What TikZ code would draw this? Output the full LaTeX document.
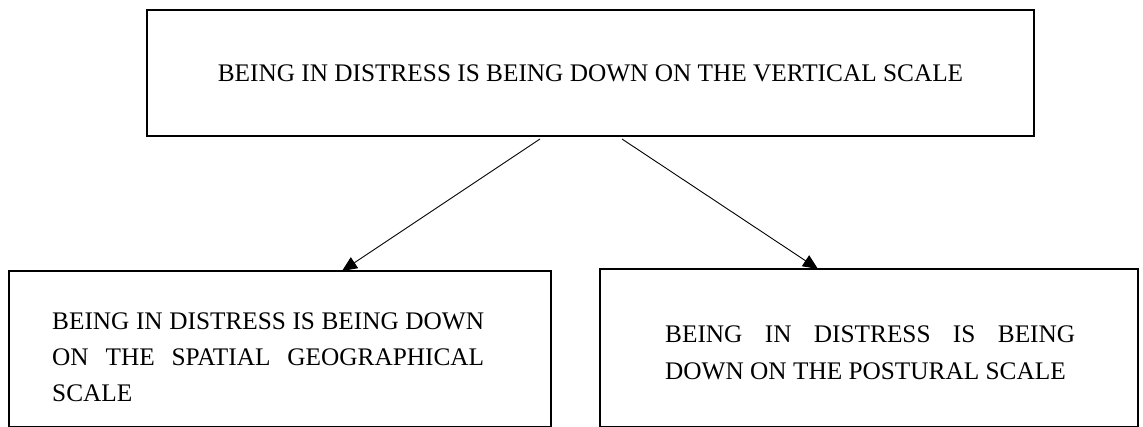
\documentclass[tikz,border=0pt]{standalone}
\usepackage{fontspec}
\setmainfont{Liberation Serif}
\usetikzlibrary{arrows.meta}
\begin{document}
\begin{tikzpicture}[x=1pt,y=-1pt,
  box/.style={draw,line width=1.6pt,rectangle,inner sep=0pt,outer sep=0pt,anchor=north west},
  boxtext/.style={inner sep=0pt,anchor=base west,align=justify},
  link/.style={line width=0.9pt,-{Triangle[length=15pt,width=13pt]}}]
\useasboundingbox (0,0) rectangle (1143,426);
% main statement
\node[box,minimum width=887pt,minimum height=126pt,font=\fontsize{25.3}{36}\selectfont] (top) at (147,10)
  {BEING IN DISTRESS IS BEING DOWN ON THE VERTICAL SCALE};
% the two sub-statements (their boxes run past the lower edge)
\node[box,minimum width=542pt,minimum height=156pt] (left) at (9,271) {};
\node[box,minimum width=538pt,minimum height=158pt] (right) at (600,269) {};
\node[boxtext,text width=432pt,font=\fontsize{25.3}{36}\selectfont] (lefttext) at (52,329)
  {\hyphenpenalty=10000\relax BEING IN DISTRESS IS BEING DOWN\linebreak ON THE SPATIAL GEOGRAPHICAL\linebreak SCALE};
\node[boxtext,text width=410pt,font=\fontsize{25.3}{37}\selectfont] (righttext) at (665,342)
  {\hyphenpenalty=10000\relax BEING IN DISTRESS IS BEING\linebreak DOWN ON THE POSTURAL SCALE};
% connectors
\draw[link] ([xshift=-50.5pt,yshift=-3pt]top.south) -- ([xshift=62pt]left.north);
\draw[link] ([xshift=31.5pt,yshift=-3pt]top.south) -- ([xshift=-51pt]right.north);
\end{tikzpicture}
\end{document}
